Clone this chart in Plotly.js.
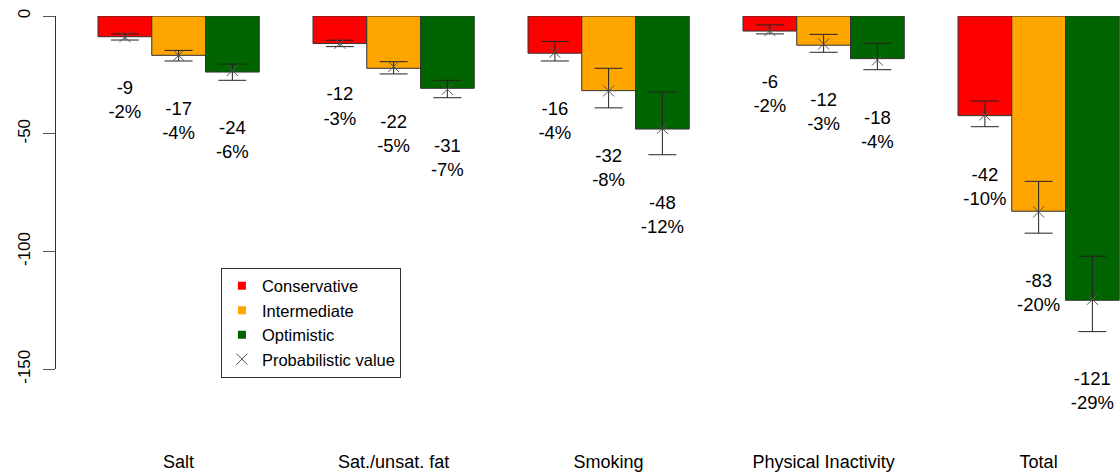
<!DOCTYPE html>
<html>
<head>
<meta charset="utf-8">
<script src="https://cdn.plot.ly/plotly-3.0.1.min.js"></script>
<style>html,body{margin:0;padding:0;background:#fff;}#chart{width:1120px;height:475px;}</style>
</head>
<body>
<div id="chart"></div>
<script>
// ---- data ----
const categories = ["Salt", "Sat./unsat. fat", "Smoking", "Physical Inactivity", "Total"];
const seriesNames = ["Conservative", "Intermediate", "Optimistic"];

const conservative = [-8.8, -11.7, -15.8, -6.4, -42.3];
const intermediate = [-16.7, -22.2, -31.7, -12.4, -82.9];
const optimistic   = [-23.8, -30.7, -48.0, -18.1, -120.7];

const consLabel = [-9, -12, -16, -6, -42];
const intLabel  = [-17, -22, -32, -12, -83];
const optLabel  = [-24, -31, -48, -18, -121];
const consPct = [-2, -3, -4, -2, -10];
const intPct  = [-4, -5, -8, -3, -20];
const optPct  = [-6, -7, -12, -4, -29];

const consProb = [-8.8, -11.6, -15.4, -6.2, -42.0];
const intProb  = [-16.7, -21.5, -31.8, -11.9, -83.2];
const optProb  = [-23.1, -31.1, -47.7, -18.7, -120.3];
const consHi = [-7.6, -10.3, -10.8, -3.8, -36.1];
const intHi  = [-14.6, -19.4, -22.2, -7.8, -70.2];
const optHi  = [-20.4, -27.3, -32.3, -11.6, -102.0];
const consLo = [-10.2, -13.0, -19.1, -7.6, -47.0];
const intLo  = [-19.1, -24.6, -39.0, -15.4, -92.2];
const optLo  = [-27.3, -34.7, -58.9, -22.8, -134.0];

const yTicks = [0, -50, -100, -150];

// ---- build ----
const colors = ["#FF0000", "#FFA500", "#006400"];
const values = [conservative, intermediate, optimistic];
const labels = [consLabel, intLabel, optLabel];
const pcts = [consPct, intPct, optPct];
const probs = [consProb, intProb, optProb];
const his = [consHi, intHi, optHi];
const los = [consLo, intLo, optLo];

const FONT = "Liberation Sans, Arial, sans-serif";
const LABEL_GAP = 26; // units below lower error bound

function xpos(g, k) { return 4 * g + k + 1.5; }

const traces = [];
seriesNames.forEach((name, k) => {
  traces.push({
    type: "bar",
    x: categories.map((c, g) => xpos(g, k)),
    y: values[k],
    width: 1,
    marker: {color: colors[k], line: {color: "#333333", width: 1}},
    showlegend: false,
    hoverinfo: "skip"
  });
});
// legend entries (small filled squares)
seriesNames.forEach((name, k) => {
  traces.push({
    type: "scatter", mode: "markers", name: name,
    x: [null], y: [null],
    marker: {symbol: "square", size: 8, color: colors[k], line: {width: 0}},
    hoverinfo: "skip"
  });
});
// probabilistic values with intervals
const px = [], py = [], ep = [], em = [];
seriesNames.forEach((name, k) => {
  categories.forEach((c, g) => {
    px.push(xpos(g, k));
    py.push(probs[k][g]);
    ep.push(his[k][g] - probs[k][g]);
    em.push(probs[k][g] - los[k][g]);
  });
});
traces.push({
  type: "scatter", mode: "markers", name: "Probabilistic value",
  x: px, y: py,
  marker: {symbol: "x-thin-open", size: 11, color: "#555555", line: {color: "#555555", width: 1}},
  error_y: {type: "data", symmetric: false, array: ep, arrayminus: em, color: "#222222", thickness: 1, width: 14},
  cliponaxis: false,
  hoverinfo: "skip"
});
// value labels (on a taller, invisible companion axis with the same scale)
const tx = [], ty = [], tt = [];
seriesNames.forEach((name, k) => {
  categories.forEach((c, g) => {
    tx.push(xpos(g, k));
    ty.push(los[k][g] - LABEL_GAP);
    tt.push(labels[k][g] + "<br>" + pcts[k][g] + "%");
  });
});
traces.push({
  type: "scatter", mode: "text", x: tx, y: ty, text: tt,
  xaxis: "x", yaxis: "y2",
  textposition: "middle center",
  textfont: {family: FONT, size: 18.5, color: "#000000"},
  cliponaxis: false, showlegend: false, hoverinfo: "skip"
});

const H = 475, T = 16, B = 5;
const plotH = H - T - B;
const axisBottomPx = 369.3;
const d0 = (H - B - axisBottomPx) / plotH;
const yMin = -150, yMax = 0;
const y2Min = yMax - (yMax - yMin) / (1 - d0);

const layout = {
  width: 1120, height: H,
  margin: {l: 56, r: 0, t: T, b: B, pad: 0},
  paper_bgcolor: "#ffffff", plot_bgcolor: "rgba(0,0,0,0)",
  font: {family: FONT, color: "#000000"},
  showlegend: true,
  barmode: "overlay",
  hovermode: false,
  xaxis: {
    range: [0.2186, 20.014], anchor: "y",
    showgrid: false, zeroline: false, showline: false,
    tickmode: "array",
    tickvals: categories.map((c, g) => 4 * g + 2.5),
    ticktext: categories,
    ticks: "", ticklabelstandoff: 80,
    tickfont: {family: FONT, size: 18, color: "#000000"}
  },
  yaxis: {
    range: [yMin, yMax], domain: [d0, 1],
    showgrid: false, zeroline: false,
    showline: true, linecolor: "#333333", linewidth: 1,
    tickmode: "array", tickvals: yTicks, ticktext: yTicks.map(String),
    ticks: "outside", ticklen: 12, tickcolor: "#555555", tickwidth: 1,
    tickangle: -90, ticklabelstandoff: 6,
    tickfont: {family: FONT, size: 17, color: "#000000"}
  },
  yaxis2: {
    range: [y2Min, yMax], domain: [0, 1], anchor: "x",
    visible: false, showgrid: false, zeroline: false
  },
  legend: {
    x: 0.155, y: 0.288 * (1 - d0) + d0, xanchor: "left", yanchor: "top",
    bgcolor: "#ffffff", bordercolor: "#333333", borderwidth: 1,
    font: {family: FONT, size: 16.5, color: "#000000"},
    itemsizing: "trace", tracegroupgap: 0
  }
};

Plotly.newPlot("chart", traces, layout, {displayModeBar: false, staticPlot: true});
</script>
</body>
</html>
